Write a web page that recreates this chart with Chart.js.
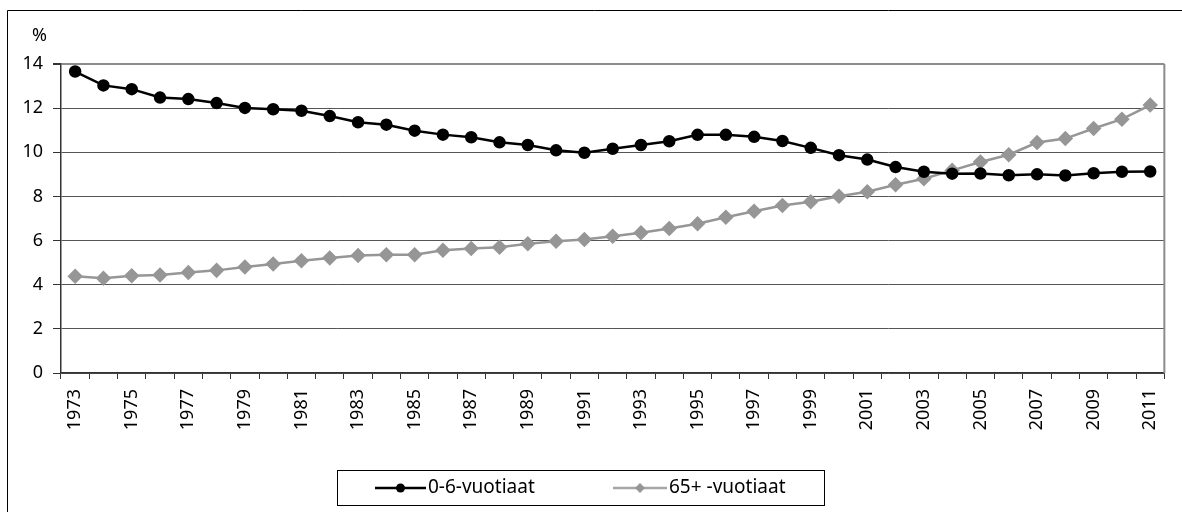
<!DOCTYPE html>
<html>
<head>
<meta charset="utf-8">
<script src="https://cdn.jsdelivr.net/npm/chart.js@4"></script>
<style>
  html, body { margin: 0; padding: 0; background: #fff; }
  #wrap { width: 1182px; height: 512px; position: relative; }
</style>
</head>
<body>
<div id="wrap"><canvas id="chart" width="1182" height="512"></canvas></div>
<script>
const years = [];
for (let y = 1973; y <= 2011; y++) years.push(String(y));

const kids = [13.66, 13.03, 12.86, 12.48, 12.41, 12.23, 12.01, 11.95, 11.88, 11.64,
  11.36, 11.25, 10.98, 10.80, 10.68, 10.45, 10.33, 10.09, 9.98, 10.16,
  10.33, 10.50, 10.79, 10.79, 10.70, 10.51, 10.20, 9.87, 9.67, 9.33,
  9.12, 9.03, 9.04, 8.96, 9.00, 8.95, 9.05, 9.12, 9.13];

const elderly = [4.38, 4.29, 4.41, 4.44, 4.55, 4.65, 4.80, 4.94, 5.09, 5.21,
  5.32, 5.36, 5.36, 5.56, 5.64, 5.70, 5.86, 5.97, 6.05, 6.20,
  6.35, 6.55, 6.76, 7.06, 7.33, 7.59, 7.76, 8.01, 8.21, 8.53,
  8.80, 9.18, 9.56, 9.89, 10.44, 10.62, 11.08, 11.50, 12.14];

const seriesNames = ["0-6-vuotiaat", "65+ -vuotiaat"];
const yTicks = [0, 2, 4, 6, 8, 10, 12, 14];

const FONT = "'Noto Sans', sans-serif";

const framePlugin = {
  id: "frame",
  afterDraw(chart) {
    const ctx = chart.ctx;
    const a = chart.chartArea;
    ctx.save();
    // outer border (only top and left edges fall inside the picture)
    ctx.strokeStyle = "#000";
    ctx.lineWidth = 1;
    ctx.beginPath();
    ctx.moveTo(7.5, 512);
    ctx.lineTo(7.5, 10.5);
    ctx.lineTo(1182, 10.5);
    ctx.stroke();
    // right plot border
    ctx.strokeStyle = "#8c8c8c";
    ctx.lineWidth = 2;
    ctx.beginPath();
    ctx.moveTo(a.right, a.top);
    ctx.lineTo(a.right, a.bottom);
    ctx.stroke();
    // unit label
    ctx.fillStyle = "#000";
    ctx.font = "18px " + FONT;
    ctx.textAlign = "left";
    ctx.textBaseline = "middle";
    ctx.fillText("%", 32, 36);
    // legend
    ctx.strokeStyle = "#000";
    ctx.lineWidth = 1;
    ctx.strokeRect(337.5, 470.5, 487, 35);
    const ds = chart.data.datasets;
    const items = [
      { x0: 375, x1: 426, tx: 428 },
      { x0: 613, x1: 667, tx: 669 }
    ];
    const ly = 488;
    items.forEach((it, i) => {
      const d = ds[i];
      ctx.strokeStyle = i === 0 ? d.borderColor : "#a6a6a6";
      ctx.lineWidth = 2.5;
      ctx.beginPath();
      ctx.moveTo(it.x0, ly);
      ctx.lineTo(it.x1, ly);
      ctx.stroke();
      ctx.fillStyle = d.pointBackgroundColor;
      const cx = (it.x0 + it.x1) / 2;
      ctx.beginPath();
      if (d.pointStyle === "rectRot") {
        ctx.moveTo(cx, ly - 5); ctx.lineTo(cx + 5, ly);
        ctx.lineTo(cx, ly + 5); ctx.lineTo(cx - 5, ly);
        ctx.closePath();
      } else {
        ctx.arc(cx, ly, 4.5, 0, Math.PI * 2);
      }
      ctx.fill();
      ctx.fillStyle = "#000";
      ctx.font = "19px " + FONT;
      ctx.textAlign = "left";
      ctx.textBaseline = "middle";
      ctx.fillText(d.label, it.tx, ly);
    });
    ctx.restore();
  }
};

new Chart(document.getElementById("chart"), {
  type: "line",
  data: {
    labels: years,
    datasets: [
      {
        label: seriesNames[0],
        data: kids,
        borderColor: "#000000",
        backgroundColor: "#000000",
        pointBackgroundColor: "#000000",
        pointBorderColor: "#000000",
        pointStyle: "circle",
        pointRadius: 5,
        borderWidth: 2.5,
        tension: 0
      },
      {
        label: seriesNames[1],
        data: elderly,
        borderColor: "#969696",
        backgroundColor: "#969696",
        pointBackgroundColor: "#969696",
        pointBorderColor: "#969696",
        pointStyle: "rectRot",
        pointRadius: 6,
        borderWidth: 2.5,
        tension: 0
      }
    ]
  },
  options: {
    responsive: false,
    animation: false,
    layout: { padding: { left: 14, top: 64, right: 15, bottom: 60 } },
    plugins: {
      legend: { display: false },
      tooltip: { enabled: false }
    },
    scales: {
      x: {
        offset: true,
        grid: {
          offset: true,
          drawOnChartArea: false,
          drawTicks: true,
          tickLength: 6,
          color: "#333"
        },
        border: { display: true, color: "#333", width: 1.5 },
        ticks: {
          autoSkip: false,
          maxRotation: 90,
          minRotation: 90,
          padding: 10,
          color: "#000",
          font: { family: FONT, size: 18 },
          callback: function (value, index) {
            return index % 2 === 0 ? this.getLabelForValue(value) : "";
          }
        },
        afterFit(scale) { scale.height = 512 - 60 - 373; }
      },
      y: {
        min: 0,
        max: 14,
        afterBuildTicks(scale) { scale.ticks = yTicks.map(v => ({ value: v })); },
        grid: {
          color: (c) => (c.tick && c.tick.value === 14 ? "#8c8c8c" : "#555"),
          lineWidth: (c) => (c.tick && c.tick.value === 14 ? 2 : 1),
          tickLength: 8,
          tickColor: "#333"
        },
        border: { display: true, color: "#333", width: 1.5 },
        ticks: {
          padding: 10,
          color: "#000",
          font: { family: FONT, size: 18 }
        },
        afterFit(scale) { scale.width = 61 - 14; }
      }
    }
  },
  plugins: [framePlugin]
});
</script>
</body>
</html>
